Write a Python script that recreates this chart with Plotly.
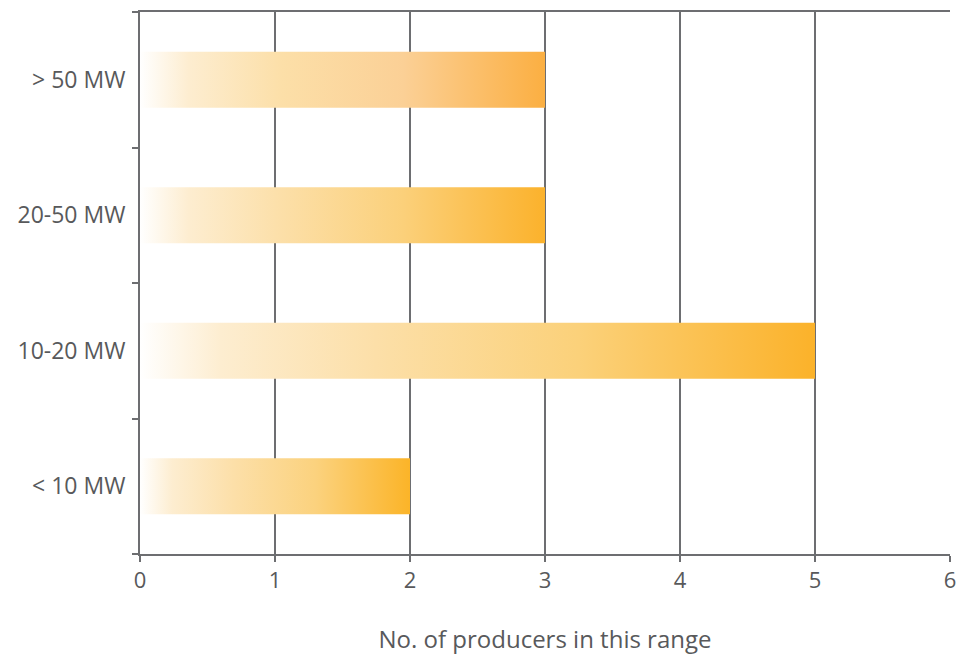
import plotly.graph_objects as go

categories = ["< 10 MW", "10-20 MW", "20-50 MW", "> 50 MW"]
producers = [2, 5, 3, 3]
end_colors = ["#fbb428", "#fbb22a", "#fbb22c", "#fbaf42"]
mid_colors = ["#fbd27e", "#fbd17a", "#fbd07a", "#fbd096"]
x_ticks = [0, 1, 2, 3, 4, 5, 6]
x_title = "No. of producers in this range"

half = 0.206
grid_col = "#6d6e71"
text_col = "#58595b"
font_family = "Open Sans, Liberation Sans, sans-serif"

fig = go.Figure()
for i, (cat, v) in enumerate(zip(categories, producers)):
    fig.add_trace(go.Scatter(
        x=[0, v, v, 0, 0],
        y=[i - half, i - half, i + half, i + half, i - half],
        mode="lines",
        line=dict(width=0),
        fill="toself",
        fillgradient=dict(
            type="horizontal",
            colorscale=[[0, "#ffffff"], [0.12, "#fdedd0"], [0.35, "#fcdfa8"],
                        [0.65, mid_colors[i]], [1, end_colors[i]]],
        ),
        hoverinfo="skip",
        showlegend=False,
        name=cat,
    ))

# page body has an 8px default margin, so the figure is sized to fill the rest
fig.update_layout(
    width=959, height=650,
    margin=dict(l=132, r=17, t=2, b=104),
    paper_bgcolor="white", plot_bgcolor="white",
    font=dict(family=font_family, color=text_col, size=23),
    showlegend=False,
)
fig.update_xaxes(
    range=[0, 6], tickvals=x_ticks, ticktext=[str(t) for t in x_ticks],
    showgrid=True, gridcolor=grid_col, gridwidth=2,
    showline=True, linecolor=grid_col, linewidth=2, mirror=True,
    ticks="outside", ticklen=6, tickwidth=2, tickcolor=grid_col,
    tickfont=dict(size=22, color=text_col),
    title=dict(text=x_title, font=dict(size=24, color=text_col), standoff=38),
    zeroline=False,
)
fig.update_yaxes(
    range=[-0.5, 3.5], tickvals=list(range(len(categories))), ticktext=categories,
    showgrid=False, zeroline=False,
    showline=True, linecolor=grid_col, linewidth=2,
    ticks="", ticklabelstandoff=8,
    tickfont=dict(size=23, color=text_col),
    minor=dict(tickvals=[-0.5, 0.5, 1.5, 2.5, 3.5], ticks="outside", ticklen=6,
               tickwidth=2, tickcolor=grid_col, showgrid=False),
)

fig.write_html("out.html")
